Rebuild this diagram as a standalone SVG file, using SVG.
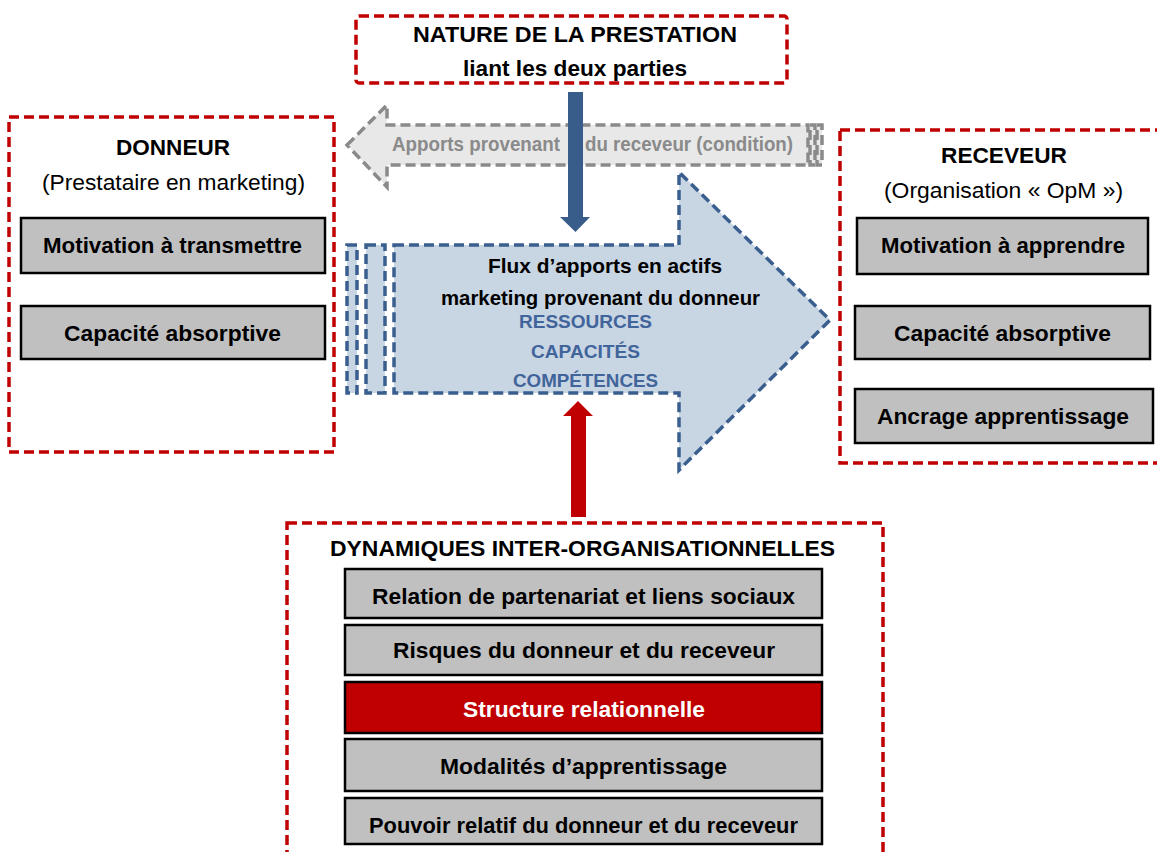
<svg xmlns="http://www.w3.org/2000/svg" width="1157" height="852" viewBox="0 0 1157 852">
<style>
text{font-family:"Liberation Sans",Arial,sans-serif;text-anchor:middle}
.b{font-weight:bold;font-size:22px;fill:#000}
.r{font-size:22px;fill:#000}
.frame{fill:#fff;stroke:#C00000;stroke-width:3.5;stroke-dasharray:10 5}
.item{fill:#C0C0C0;stroke:#000;stroke-width:2.5}
.hot{fill:#C00000;stroke:#000;stroke-width:2.5}
.flow{fill:#C8D5E3;stroke:#3A5F8F;stroke-width:3.5;stroke-dasharray:10 5}
.ghost{fill:#E8E8E8;stroke:#8A8A8A;stroke-width:3.5;stroke-dasharray:10 5}
.blue{font-weight:bold;font-size:19px;fill:#41649B}
.grey{font-weight:bold;font-size:20px;fill:#8A8A8A;text-anchor:start}
</style>

<g id="apports-receveur">
<polygon class="ghost" points="347,145 387,105 387,125 808,125 808,165 387,165 387,187"/>
<rect class="ghost" x="810" y="125" width="5" height="40" stroke-width="2.5" stroke-dasharray="4 2"/>
<rect class="ghost" x="817" y="125" width="5" height="40" stroke-width="2.5" stroke-dasharray="4 2"/>
<text class="grey" x="392" y="151" textLength="168" lengthAdjust="spacingAndGlyphs">Apports provenant</text>
<text class="grey" x="585" y="151" textLength="208" lengthAdjust="spacingAndGlyphs">du receveur (condition)</text>
</g>

<g id="nature">
<rect class="frame" x="356" y="16" width="431" height="67" rx="3"/>
<text class="b" x="575" y="42" textLength="324" lengthAdjust="spacingAndGlyphs">NATURE DE LA PRESTATION</text>
<text class="b" x="575" y="76" textLength="224" lengthAdjust="spacingAndGlyphs">liant les deux parties</text>
</g>

<g id="donneur">
<rect class="frame" x="9" y="117" width="325" height="335"/>
<text class="b" x="173" y="155" textLength="114" lengthAdjust="spacingAndGlyphs">DONNEUR</text>
<text class="r" x="173.5" y="190" textLength="263" lengthAdjust="spacingAndGlyphs">(Prestataire en marketing)</text>
<rect class="item" x="21" y="218" width="304" height="55"/>
<text class="b" x="172.5" y="253" textLength="259" lengthAdjust="spacingAndGlyphs">Motivation à transmettre</text>
<rect class="item" x="21" y="306" width="304" height="53"/>
<text class="b" x="172.5" y="341" textLength="217" lengthAdjust="spacingAndGlyphs">Capacité absorptive</text>
</g>

<g id="receveur">
<rect class="frame" x="840" y="130" width="340" height="333"/>
<text class="b" x="1004" y="163" textLength="126" lengthAdjust="spacingAndGlyphs">RECEVEUR</text>
<text class="r" x="1003.5" y="198" textLength="239" lengthAdjust="spacingAndGlyphs">(Organisation « OpM »)</text>
<rect class="item" x="857" y="218" width="291" height="56"/>
<text class="b" x="1003" y="253" textLength="244" lengthAdjust="spacingAndGlyphs">Motivation à apprendre</text>
<rect class="item" x="855" y="306" width="295" height="53"/>
<text class="b" x="1002.5" y="341" textLength="217" lengthAdjust="spacingAndGlyphs">Capacité absorptive</text>
<rect class="item" x="855" y="389" width="298" height="54"/>
<text class="b" x="1003" y="424" textLength="252" lengthAdjust="spacingAndGlyphs">Ancrage apprentissage</text>
</g>

<g id="flux-donneur">
<rect class="flow" x="347" y="245" width="10" height="148"/>
<rect class="flow" x="366" y="245" width="19" height="148"/>
<polygon class="flow" points="394,245 679,245 679,172 830,320 679,470 679,393 394,393"/>
<text class="b" x="605" y="273" font-size="21" style="font-size:21px" textLength="234" lengthAdjust="spacingAndGlyphs">Flux d’apports en actifs</text>
<text class="b" x="600.5" y="305" style="font-size:21px" textLength="319" lengthAdjust="spacingAndGlyphs">marketing provenant du donneur</text>
<text class="blue" x="585.5" y="328" textLength="133" lengthAdjust="spacingAndGlyphs">RESSOURCES</text>
<text class="blue" x="585.5" y="358" textLength="109" lengthAdjust="spacingAndGlyphs">CAPACITÉS</text>
<text class="blue" x="585.5" y="387" textLength="145" lengthAdjust="spacingAndGlyphs">COMPÉTENCES</text>
</g>

<g id="dynamiques">
<rect class="frame" x="287" y="523" width="596" height="360"/>
<text class="b" x="582.5" y="556" textLength="505" lengthAdjust="spacingAndGlyphs">DYNAMIQUES INTER-ORGANISATIONNELLES</text>
<rect class="item" x="345" y="569" width="477" height="49"/>
<text class="b" x="583.5" y="604" textLength="423" lengthAdjust="spacingAndGlyphs">Relation de partenariat et liens sociaux</text>
<rect class="item" x="345" y="625" width="477" height="50"/>
<text class="b" x="584" y="658" textLength="382" lengthAdjust="spacingAndGlyphs">Risques du donneur et du receveur</text>
<rect class="hot" x="345" y="682" width="477" height="51"/>
<text class="b" x="584" y="717" style="fill:#fff" textLength="242" lengthAdjust="spacingAndGlyphs">Structure relationnelle</text>
<rect class="item" x="345" y="739" width="477" height="52"/>
<text class="b" x="583.5" y="774" textLength="287" lengthAdjust="spacingAndGlyphs">Modalités d’apprentissage</text>
<rect class="item" x="345" y="798" width="477" height="46"/>
<text class="b" x="583.5" y="833" textLength="429" lengthAdjust="spacingAndGlyphs">Pouvoir relatif du donneur et du receveur</text>
</g>

<g id="connectors">
<polygon fill="#385D8A" points="568,92 583,92 583,217 590,217 575.5,232 560,217 568,217"/>
<polygon fill="#C00000" points="571,517 586,517 586,416 593,416 578,401 563,416 571,416"/>
</g>
</svg>
